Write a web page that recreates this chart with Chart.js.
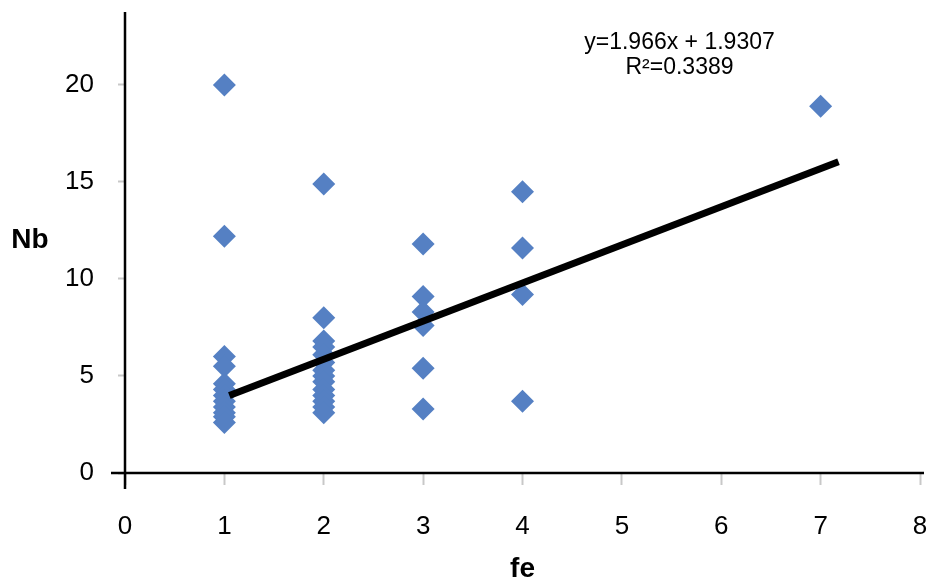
<!DOCTYPE html>
<html>
<head>
<meta charset="utf-8">
<script src="https://cdn.jsdelivr.net/npm/chart.js@4/dist/chart.umd.min.js"></script>
<style>
  body { margin: 0; background: #fff; }
  #wrap { width: 933px; height: 586px; }
</style>
</head>
<body>
<div id="wrap"><canvas id="grafico"></canvas></div>
<script>
// valori di Nb per ogni classe di fe
var nbFe1 = [20, 12.2, 6.0, 5.5, 4.6, 4.3, 4.0, 3.7, 3.4, 3.1, 2.9, 2.6];
var nbFe2 = [14.9, 8.0, 6.8, 6.5, 6.1, 5.7, 5.3, 5.0, 4.7, 4.3, 4.0, 3.7, 3.4, 3.1];
var nbFe3 = [11.8, 9.1, 8.3, 7.6, 5.4, 3.3];
var nbFe4 = [14.5, 11.6, 9.2, 3.7];
var nbFe7 = [18.9];

var xTicks = [0, 1, 2, 3, 4, 5, 6, 7, 8];
var yTicks = [0, 5, 10, 15, 20];

// retta di regressione
var pendenza = 1.966;
var intercetta = 1.9307;
var r2 = 0.3389;
var rettaDa = 1.05;
var rettaA = 7.18;

var punti = [];
function aggiungi(fe, valori) {
    for (var i = 0; i < valori.length; i++) {
        punti.push({ x: fe, y: valori[i] });
    }
}
aggiungi(1, nbFe1);
aggiungi(2, nbFe2);
aggiungi(3, nbFe3);
aggiungi(4, nbFe4);
aggiungi(7, nbFe7);

var retta = [
    { x: rettaDa, y: pendenza * rettaDa + intercetta },
    { x: rettaA, y: pendenza * rettaA + intercetta }
];

var font = "'Liberation Sans', Arial, Helvetica, sans-serif";

// assi neri che si incrociano, titolo Nb ed equazione
var testi = {
    id: 'testi',
    afterDraw: function (chart) {
        var c = chart.ctx;
        var x = chart.scales.x;
        var y = chart.scales.y;
        var x0 = x.getPixelForValue(0);
        var y0 = y.getPixelForValue(0);
        c.save();
        c.strokeStyle = '#000';
        c.lineWidth = 2.5;
        c.beginPath();
        c.moveTo(x0, chart.chartArea.top);
        c.lineTo(x0, y0 + 16);
        c.moveTo(x0 - 14, y0);
        c.lineTo(x.right + 4, y0);
        c.stroke();

        c.fillStyle = '#000';
        c.textAlign = 'center';
        c.textBaseline = 'middle';
        c.font = 'bold 28px ' + font;
        c.fillText('Nb', 30, y.getPixelForValue(12));

        var ex = x.getPixelForValue(5.58);
        c.font = '23px ' + font;
        c.fillText('y=' + pendenza + 'x + ' + intercetta, ex, 43);
        c.fillText('R\u00B2=' + r2, ex, 68);
        c.restore();
    }
};

var ctx = document.getElementById('grafico');
var chart = new Chart(ctx, {
    type: 'scatter',
    data: {
        datasets: [{
            type: 'line',
            data: retta,
            borderColor: '#000',
            borderWidth: 7,
            borderCapStyle: 'butt',
            pointRadius: 0,
            fill: false
        }, {
            data: punti,
            pointStyle: 'rectRot',
            pointRadius: 11.5,
            pointHoverRadius: 11.5,
            backgroundColor: '#5580c3',
            borderColor: '#5580c3',
            borderWidth: 0
        }]
    },
    plugins: [testi],
    options: {
        responsive: true,
        maintainAspectRatio: false,
        animation: false,
        layout: { padding: { left: 0, right: 13, top: 12, bottom: 0 } },
        plugins: {
            legend: { display: false },
            tooltip: { enabled: false }
        },
        scales: {
            x: {
                type: 'linear',
                min: 0,
                max: 8,
                afterBuildTicks: function (s) {
                    s.ticks = xTicks.map(function (v) { return { value: v }; });
                },
                afterFit: function (s) {
                    s.height = 586 - 473;
                    s.paddingLeft = 0;
                    s.paddingRight = 0;
                },
                ticks: {
                    color: '#000',
                    padding: 26,
                    font: { family: font, size: 26 }
                },
                grid: {
                    drawOnChartArea: false,
                    tickLength: 12,
                    tickWidth: 2,
                    tickColor: '#c8c8c8'
                },
                border: { display: false },
                title: {
                    display: true,
                    text: 'fe',
                    color: '#000',
                    padding: { top: 0, bottom: 0 },
                    font: { family: font, size: 28, weight: 'bold' }
                }
            },
            y: {
                min: 0,
                max: 23.76,
                afterBuildTicks: function (s) {
                    s.ticks = yTicks.map(function (v) { return { value: v }; });
                },
                afterFit: function (s) {
                    s.width = 125;
                    s.paddingTop = 0;
                    s.paddingBottom = 0;
                },
                ticks: {
                    color: '#000',
                    padding: 24,
                    font: { family: font, size: 26 }
                },
                grid: {
                    drawOnChartArea: false,
                    tickLength: 7,
                    tickWidth: 2,
                    tickColor: '#c8c8c8'
                },
                border: { display: false }
            }
        }
    }
});
</script>
</body>
</html>
